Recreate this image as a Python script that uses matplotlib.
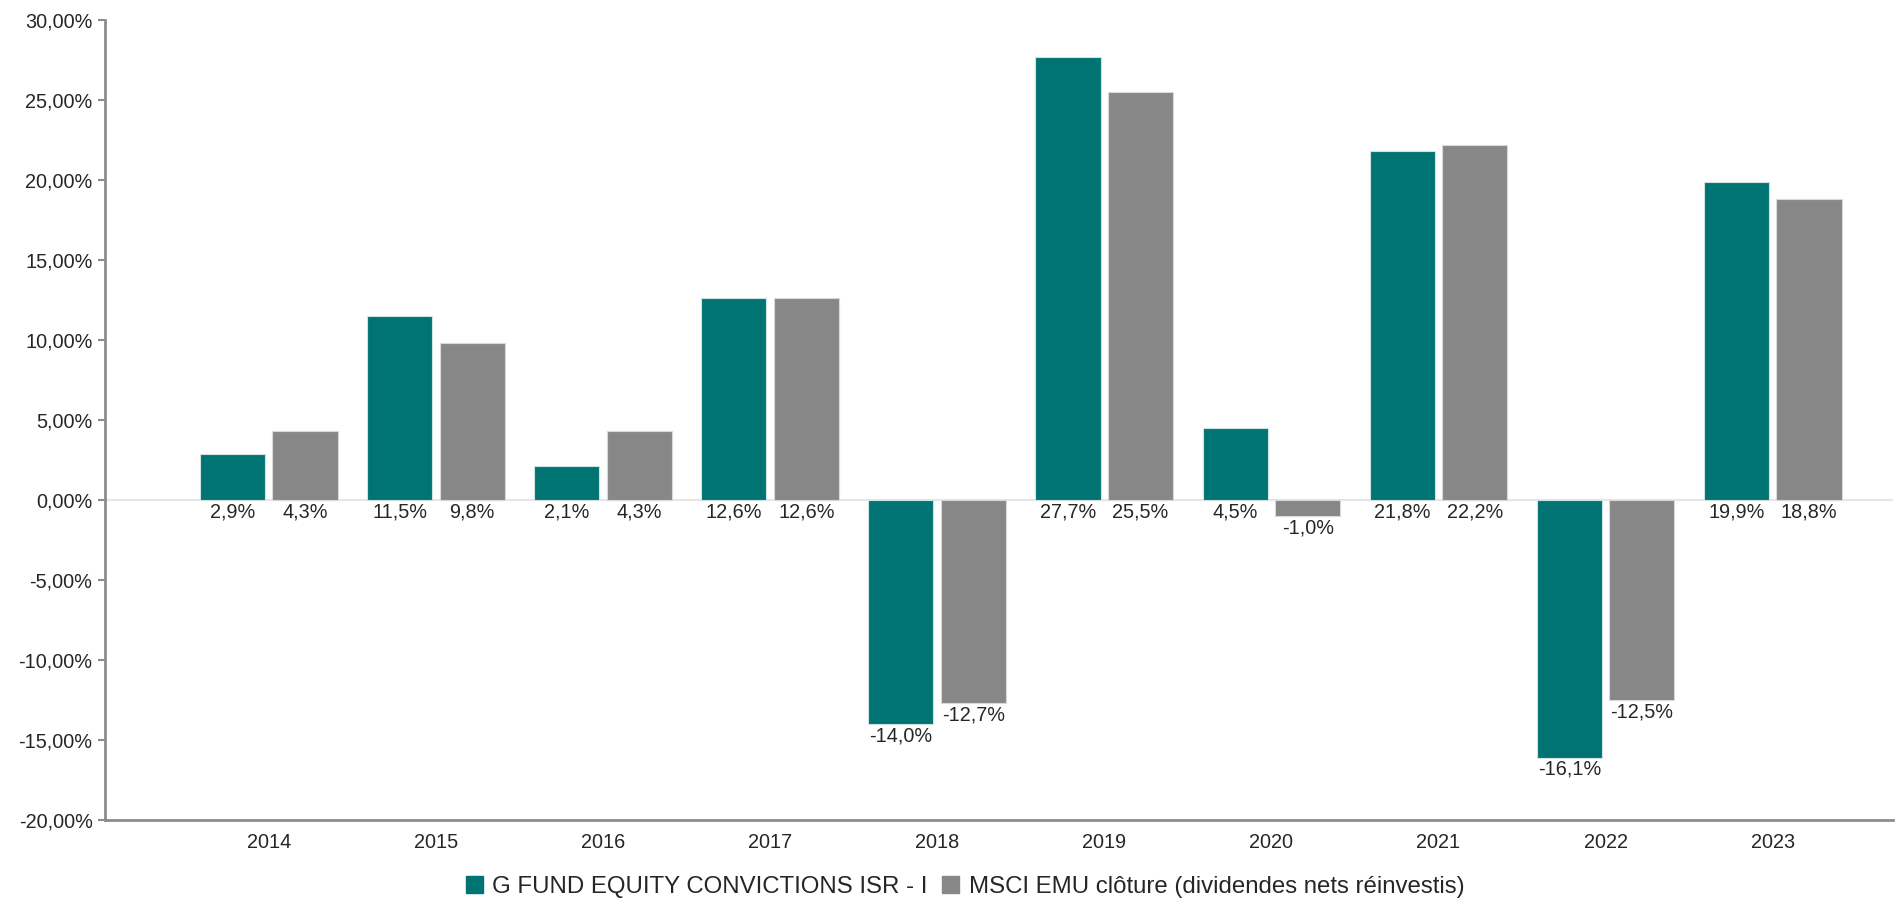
import matplotlib
matplotlib.use('Agg')
import matplotlib.pyplot as plt
import numpy as np
from matplotlib.patches import Patch

plt.rcParams['font.family'] = ['Liberation Sans', 'DejaVu Sans']

years = ['2014', '2015', '2016', '2017', '2018', '2019', '2020', '2021', '2022', '2023']
fund = [2.9, 11.5, 2.1, 12.6, -14.0, 27.7, 4.5, 21.8, -16.1, 19.9]
msci = [4.3, 9.8, 4.3, 12.6, -12.7, 25.5, -1.0, 22.2, -12.5, 18.8]
fund_name = 'G FUND EQUITY CONVICTIONS ISR - I'
msci_name = 'MSCI EMU clôture (dividendes nets réinvestis)'

teal = '#007473'
grey = '#878787'
text_col = '#262626'

fig = plt.figure(figsize=(18.95, 8.99), dpi=100)
ax = fig.add_axes([105 / 1895, 1 - 820 / 899, 1788 / 1895, 800 / 899])

x = np.arange(len(years))
w = 0.39
off = 0.217
b1 = ax.bar(x - off, fund, w, color=teal, edgecolor='#cfe3e3', linewidth=0.8, zorder=3)
b2 = ax.bar(x + off, msci, w, color=grey, edgecolor='#d9d9d9', linewidth=0.8, zorder=3)

for bars, vals in ((b1, fund), (b2, msci)):
    for r, v in zip(bars, vals):
        y = min(0, v)
        ax.annotate(f'{v:.1f}%'.replace('.', ','), (r.get_x() + r.get_width() / 2, y),
                    xytext=(0, -1.5), textcoords='offset points', ha='center', va='top',
                    fontsize=14.3, color=text_col)

ax.axhline(0, color='#e6e6e6', linewidth=1.5, zorder=1)

ax.set_ylim(-20, 30)
ax.set_xlim(-0.98, 9.72)
ax.set_yticks(np.arange(-20, 31, 5))
ax.set_yticklabels([f'{t:.2f}%'.replace('.', ',') for t in np.arange(-20, 31, 5)])
ax.set_xticks(x)
ax.set_xticklabels(years)
ax.tick_params(axis='y', length=5, width=1.5, color='#8c8c8c', labelsize=14.3, labelcolor=text_col, pad=4)
ax.tick_params(axis='x', length=0, labelsize=14.3, labelcolor=text_col, pad=9)

for s in ('top', 'right'):
    ax.spines[s].set_visible(False)
for s in ('left', 'bottom'):
    ax.spines[s].set_color('#8c8c8c')
    ax.spines[s].set_linewidth(2)

handles = [Patch(color=teal, label=fund_name), Patch(color=grey, label=msci_name)]
fig.legend(handles=handles, loc='center', bbox_to_anchor=(965 / 1895, 1 - 887 / 899), ncol=2,
           frameon=False, fontsize=17.3, handlelength=0.7, handleheight=0.7, handletextpad=0.4,
           columnspacing=0.6, labelcolor=text_col)

fig.savefig('out.png', dpi=100)
